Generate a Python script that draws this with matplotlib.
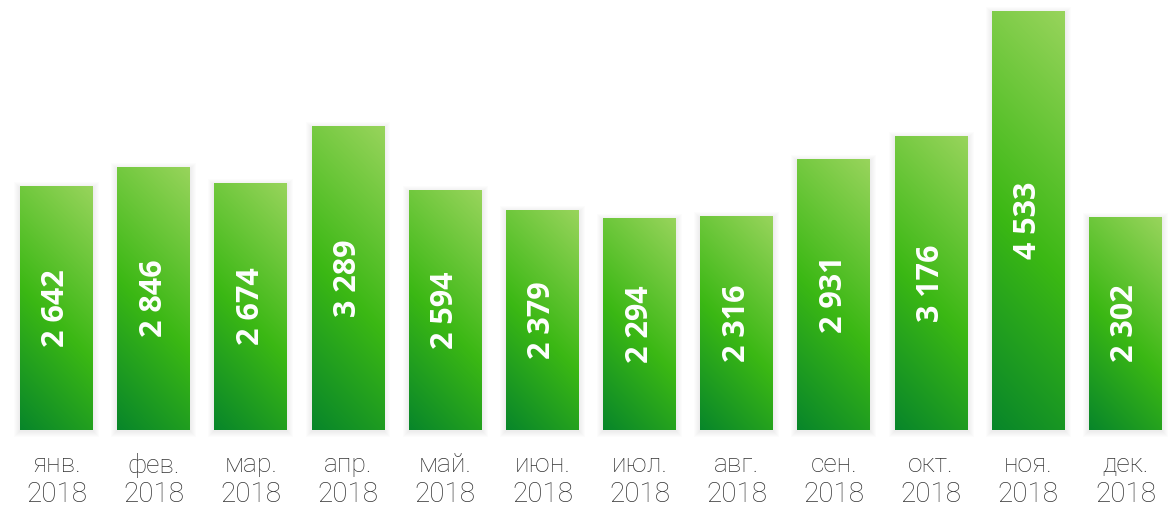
import numpy as np
import matplotlib
matplotlib.use("Agg")
import matplotlib.pyplot as plt
from matplotlib.colors import LinearSegmentedColormap
from matplotlib.transforms import blended_transform_factory

months = ["янв.", "фев.", "мар.", "апр.", "май.", "июн.", "июл.", "авг.", "сен.", "окт.", "ноя.", "дек."]
years = ["2018"] * 12
values = [2642, 2846, 2674, 3289, 2594, 2379, 2294, 2316, 2931, 3176, 4533, 2302]

W, H, DPI = 1170, 507, 100
fig = plt.figure(figsize=(W / DPI, H / DPI), dpi=DPI)
ax = fig.add_axes([0, 77 / H, 1, 430 / H])

spacing = 97.18
first = 56.5
ax.set_xlim(-first / spacing, (W - first) / spacing)
ymax = values[10] * 430 / 419
ax.set_ylim(0, ymax)
ax.axis("off")

cmap = LinearSegmentedColormap.from_list(
    "g", [(0.0, "#08862a"), (0.45, "#3bb814"), (1.0, "#98d45c")])

bw = 0.75
px_per_unit_x = spacing
px_per_unit_y = 430 / ymax
wpx = bw * px_per_unit_x
xs = np.arange(len(values))
bars = ax.bar(xs, values, width=bw, color="none", edgecolor="none", zorder=2)

for i, (b, v) in enumerate(zip(bars, values)):
    hpx = v * px_per_unit_y
    nx, ny = int(round(wpx)), int(round(hpx))
    xx = np.linspace(0, wpx, nx)
    yy = np.linspace(hpx, 0, ny)
    X, Y = np.meshgrid(xx, yy)
    t = (X + Y) / (wpx + hpx)
    # soft shadow
    for k in range(6):
        d = (k + 1) * 1.0
        ax.add_patch(plt.Rectangle((i - bw / 2 - d / spacing, -(d + 1) / px_per_unit_y),
                                   bw + 2 * d / spacing,
                                   v + (2 * d) / px_per_unit_y - 1 / px_per_unit_y,
                                   facecolor="black", alpha=0.012, edgecolor="none",
                                   zorder=1, clip_on=False))
    im = ax.imshow(cmap(t), extent=(i - bw / 2, i + bw / 2, 0, v),
                   aspect="auto", zorder=3, interpolation="bilinear")
    im.set_clip_path(b)
    label = f"{v:,}".replace(",", " ")
    ax.text(i, v / 2, label, rotation=90, ha="center", va="center",
            color="white", fontsize=22, fontweight="bold",
            family=["Open Sans", "DejaVu Sans"], zorder=4)

tr = blended_transform_factory(ax.transData, ax.transAxes)
for i, (m, y) in enumerate(zip(months, years)):
    ax.text(i, -35 / 430, m, ha="center", va="center", fontsize=19,
            color="#333333", family=["Roboto", "DejaVu Sans"], fontweight="light",
            transform=tr, clip_on=False)
    ax.text(i, -64 / 430, y, ha="center", va="center", fontsize=20,
            color="#333333", family=["Roboto", "DejaVu Sans"], fontweight="light",
            transform=tr, clip_on=False)

fig.savefig("out.png", dpi=DPI)
